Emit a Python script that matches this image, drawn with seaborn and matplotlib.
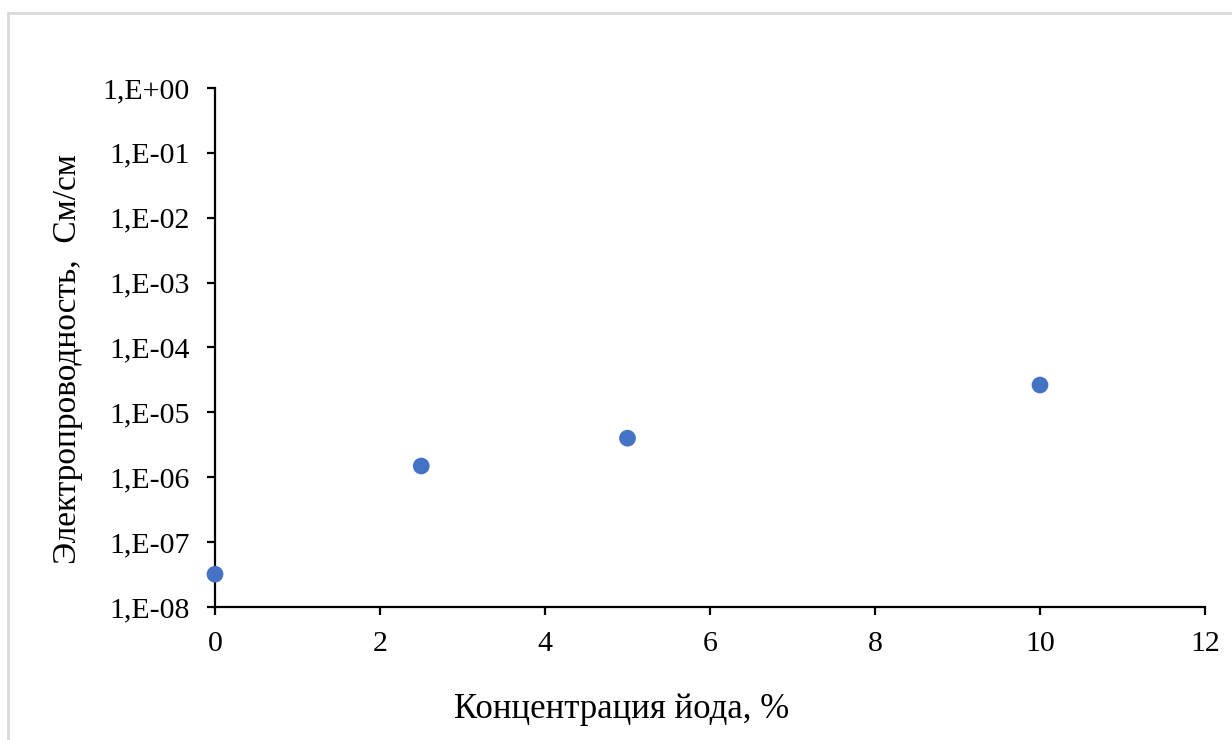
import matplotlib
matplotlib.use("Agg")
import matplotlib.pyplot as plt
import matplotlib.ticker as mticker
import numpy as np
import pandas as pd
import seaborn as sns

# iodine concentration, % and conductivity, S/cm
iodine_pct = [0, 2.5, 5, 10]
conductivity = [3.2e-8, 1.49e-6, 4.0e-6, 2.64e-5]

y_ticks = [1e-8, 1e-7, 1e-6, 1e-5, 1e-4, 1e-3, 1e-2, 1e-1, 1e0]
x_ticks = [0, 2, 4, 6, 8, 10, 12]

df = pd.DataFrame({"x": iodine_pct, "y": conductivity})

sns.set_style("white")
plt.rcParams['font.family'] = ['Liberation Serif', 'DejaVu Serif']

fig = plt.figure(figsize=(12.32, 7.4), dpi=100)
# light gray frame of the chart area
fig.patches.append(plt.Rectangle((8 / 1232, -0.05), 1.1, 1 - 13 / 740 + 0.05,
                                 transform=fig.transFigure, fill=False,
                                 edgecolor='#d9d9d9', linewidth=2))
ax = fig.add_axes([215 / 1232, 1 - 607 / 740, 990 / 1232, 519 / 740])

sns.scatterplot(data=df, x="x", y="y", ax=ax, color='#4472C4', s=145,
                edgecolor='none', clip_on=False, zorder=3)

ax.set_yscale('log')
ax.set_ylim(1e-8, 1e0)
ax.set_xlim(0, 12)
ax.set_xticks(x_ticks)
ax.set_yticks(y_ticks)
ax.yaxis.set_minor_locator(mticker.NullLocator())


def exp_fmt(v, pos):
    e = int(round(np.log10(v)))
    sign = '+' if e >= 0 else '-'
    return f"1,E{sign}{abs(e):02d}"


ax.yaxis.set_major_formatter(mticker.FuncFormatter(exp_fmt))
ax.xaxis.set_major_formatter(mticker.FuncFormatter(lambda v, p: f"{int(v)}"))

for side in ['top', 'right']:
    ax.spines[side].set_visible(False)
for side in ['left', 'bottom']:
    ax.spines[side].set_color('black')
    ax.spines[side].set_linewidth(1.6)

ax.tick_params(axis='both', which='major', direction='out', length=6,
               width=1.6, color='black', labelsize=21.5, labelcolor='black',
               left=True, bottom=True)
ax.tick_params(axis='y', pad=12)
ax.tick_params(axis='x', pad=11)

ax.set_xlabel("Концентрация йода, %", fontsize=25, color='black')
ax.set_ylabel("Электропроводность,  См/см", fontsize=24, color='black')
ax.xaxis.set_label_coords(0.4106, -0.165)
ax.yaxis.set_label_coords(-0.133, 0.478)

fig.savefig("out.png", dpi=100, facecolor='white')
